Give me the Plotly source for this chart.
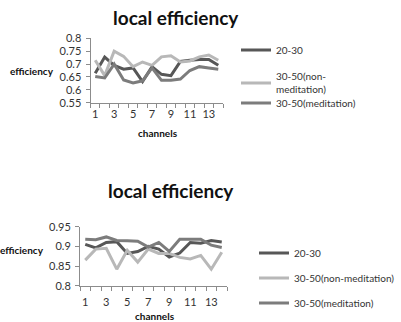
import plotly.graph_objects as go

W, H = 401, 322
channels = list(range(1, 15))
tick_labels = ["1", "3", "5", "7", "9", "11", "13"]
tick_pos = [1, 3, 5, 7, 9, 11, 13]
series_names_top = ["20-30", "30-50(non-<br>meditation)", "30-50(meditation)"]
series_names_bottom = ["20-30", "30-50(non-meditation)", "30-50(meditation)"]
colors = ["#575757", "#b8b8b8", "#7c7c7c"]

# top chart
top_2030 = [0.664, 0.727, 0.695, 0.680, 0.685, 0.632, 0.690, 0.660, 0.655, 0.710, 0.715, 0.718, 0.718, 0.695]
top_non = [0.715, 0.655, 0.750, 0.730, 0.690, 0.708, 0.695, 0.728, 0.732, 0.708, 0.712, 0.728, 0.735, 0.715]
top_med = [0.652, 0.646, 0.700, 0.638, 0.627, 0.635, 0.685, 0.637, 0.637, 0.642, 0.675, 0.690, 0.685, 0.680]
top_yticks = [0.55, 0.6, 0.65, 0.7, 0.75, 0.8]
top_ytext = ["0.55", "0.6", "0.65", "0.7", "0.75", "0.8"]

# bottom chart
bot_2030 = [0.905, 0.896, 0.910, 0.912, 0.882, 0.887, 0.900, 0.893, 0.873, 0.883, 0.910, 0.908, 0.915, 0.911]
bot_non = [0.865, 0.893, 0.895, 0.842, 0.890, 0.860, 0.893, 0.882, 0.882, 0.872, 0.868, 0.877, 0.842, 0.885]
bot_med = [0.918, 0.917, 0.924, 0.915, 0.914, 0.913, 0.898, 0.910, 0.887, 0.918, 0.918, 0.918, 0.903, 0.897]
bot_yticks = [0.8, 0.85, 0.9, 0.95]
bot_ytext = ["0.8", "0.85", "0.9", "0.95"]

FONT = "Lato, 'Open Sans', sans-serif"
AX = "#8c8c8c"

def px_x(p):
    return p / W

def px_y(p):
    return 1 - p / H

top_legends = ["legend", "legend2", "legend3"]
bot_legends = ["legend4", "legend5", "legend6"]

fig = go.Figure()
for vals, name, c, lg in zip([top_2030, top_non, top_med], series_names_top, colors, top_legends):
    fig.add_trace(go.Scatter(x=channels, y=vals, mode="lines", name=name,
                             line=dict(color=c, width=3), xaxis="x", yaxis="y",
                             legend=lg, showlegend=True))
for vals, name, c, lg in zip([bot_2030, bot_non, bot_med], series_names_bottom, colors, bot_legends):
    fig.add_trace(go.Scatter(x=channels, y=vals, mode="lines", name=name,
                             line=dict(color=c, width=3), xaxis="x2", yaxis="y2",
                             legend=lg, showlegend=True))

def xaxis(domain, anchor, standoff):
    return dict(domain=domain, anchor=anchor, range=[0.5, 14.5],
                tickmode="array", tickvals=tick_pos, ticktext=tick_labels,
                ticks="", ticklen=0, showline=True, linecolor=AX, linewidth=1,
                showgrid=False, zeroline=False, ticklabelstandoff=standoff,
                automargin=False,
                tickfont=dict(family=FONT, size=11, color="#333"),
                minor=dict(tickvals=[i + 0.5 for i in range(0, 15)], ticks="outside",
                           ticklen=4, tickcolor=AX, showgrid=False))

def yaxis(domain, anchor, rng, tv, tt):
    return dict(domain=domain, anchor=anchor, range=rng, tickmode="array",
                tickvals=tv, ticktext=tt, ticks="outside", ticklen=4, tickcolor=AX,
                showline=True, linecolor=AX, linewidth=1, showgrid=False,
                zeroline=False, ticklabelstandoff=2, automargin=False,
                tickfont=dict(family=FONT, size=11, color="#333"))

def legend(xp, yp):
    return dict(x=px_x(xp), y=px_y(yp), xanchor="left", yanchor="middle",
                font=dict(family=FONT, size=10, color="#333"), itemwidth=30,
                bgcolor="rgba(0,0,0,0)")

fig.update_layout(
    width=W, height=H, autosize=False, showlegend=True,
    margin=dict(l=0, r=0, t=0, b=0, autoexpand=False),
    paper_bgcolor="white", plot_bgcolor="white",
    xaxis=xaxis([px_x(90.5), px_x(223)], "y", 1),
    yaxis=yaxis([px_y(102.7), px_y(38.3)], "x", [0.55, 0.8], top_yticks, top_ytext),
    xaxis2=xaxis([px_x(80), px_x(227)], "y2", 6),
    yaxis2=yaxis([px_y(285.7), px_y(226.7)], "x2", [0.8, 0.95], bot_yticks, bot_ytext),
    legend=legend(236, 50),
    legend2=legend(236, 83),
    legend3=legend(236, 103),
    legend4=legend(254, 253),
    legend5=legend(254, 278),
    legend6=legend(254, 303),
)

annots = [
    dict(text="<b>local efficiency</b>", x=px_x(176), y=px_y(17), size=19, xa="center"),
    dict(text="<b>local efficiency</b>", x=px_x(171), y=px_y(190), size=19, xa="center"),
    dict(text="<b>efficiency</b>", x=px_x(56), y=px_y(71), size=10, xa="right"),
    dict(text="<b>efficiency</b>", x=px_x(46), y=px_y(250), size=10, xa="right"),
    dict(text="<b>channels</b>", x=px_x(158), y=px_y(133), size=10, xa="center"),
    dict(text="<b>channels</b>", x=px_x(155), y=px_y(316), size=10, xa="center"),
]
for a in annots:
    fig.add_annotation(text=a["text"], x=a["x"], y=a["y"], xref="paper", yref="paper",
                       xanchor=a["xa"], yanchor="middle", showarrow=False,
                       font=dict(family=FONT, size=a["size"], color="#111"))

fig.write_html("out.html", config={"displayModeBar": False},
               post_script="document.body.style.margin='0';")
